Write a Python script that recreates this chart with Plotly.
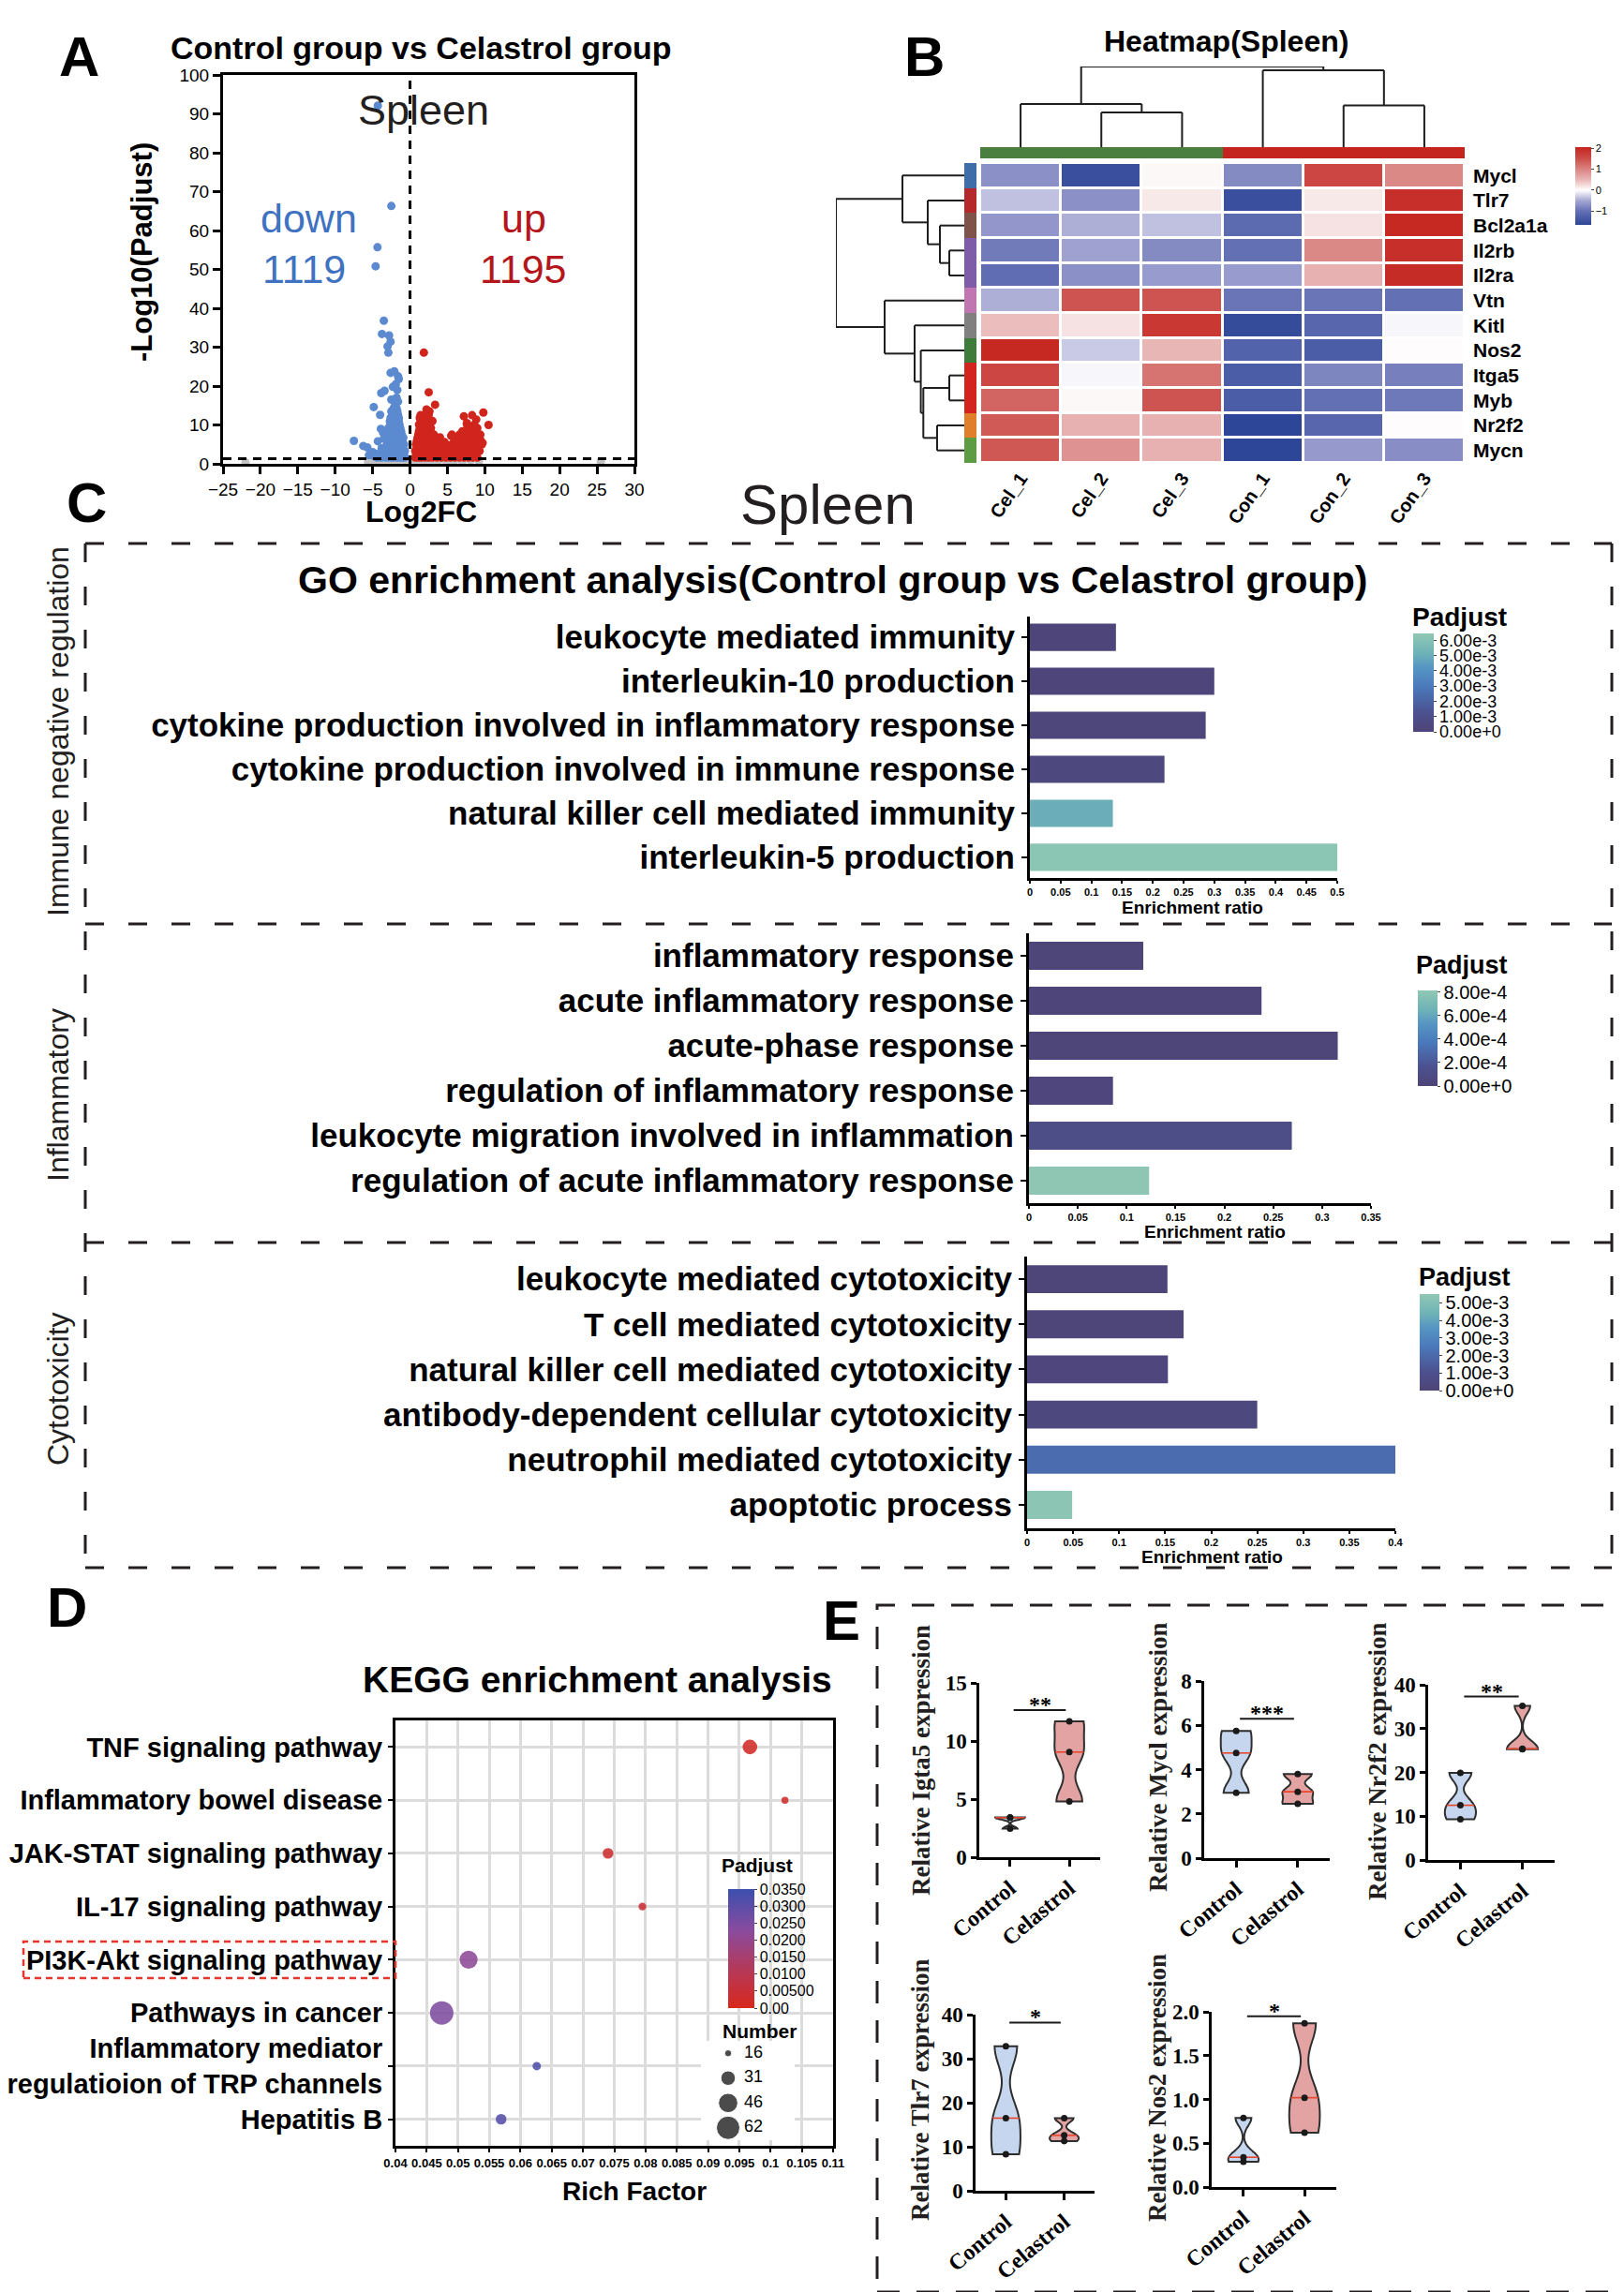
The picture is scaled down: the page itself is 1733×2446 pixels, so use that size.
import numpy as np
import plotly.graph_objects as go

W, H = 1733, 2446
SANS = "Liberation Sans, Arial, Helvetica, sans-serif"
SERIF = "Liberation Serif, Times New Roman, serif"

# ============================ DATA ============================
# ---- A: volcano plot (Log2FC, -Log10 Padjust) ----
down_outliers = [(-4.3, 92.1), (-2.5, 66.3), (-4.35, 55.7), (-4.6, 50.8), (-3.5, 36.8), (-3.75, 33.4),
                 (-2.8, 33.0), (-2.6, 31.4), (-3.0, 30.2), (-2.9, 28.6), (-2.6, 23.4), (-2.1, 23.8),
                 (-1.5, 21.8), (-2.3, 19.8), (-3.85, 18.2), (-1.7, 19.0), (-1.8, 17.0), (-4.85, 14.6),
                 (-7.5, 5.9), (-6.25, 4.6), (-5.7, 4.2), (-4.3, 5.8), (-4.0, 12.6), (-1.6, 22.5),
                 (-1.9, 20.5), (-3.4, 18.8), (-1.6, 16.0), (-2.5, 16.5), (-2.0, 15.5), (-5.0, 3.0),
                 (-4.5, 2.5), (-3.8, 4.0), (-3.5, 6.5), (-3.3, 3.0), (-4.8, 2.0), (-5.5, 2.2),
                 (-3.9, 9.0), (-3.6, 8.0)]
down_rows = [(1.6, [-0.7, -1.0, -1.4, -1.8, -2.3, -2.7, -3.2, -3.8, -4.4]),
             (2.4, [-0.8, -1.2, -1.6, -2.0, -2.5, -2.9, -3.4, -4.1]),
             (3.3, [-0.7, -1.1, -1.5, -1.9, -2.2, -2.6, -3.0, -3.6]),
             (4.1, [-0.9, -1.3, -1.7, -2.1, -2.4, -2.8, -3.3]),
             (5.0, [-0.8, -1.2, -1.6, -2.0, -2.3, -2.7, -3.1]),
             (5.8, [-1.0, -1.4, -1.8, -2.2, -2.5, -2.9]),
             (6.7, [-0.9, -1.3, -1.7, -2.0, -2.4, -2.8]),
             (7.5, [-1.1, -1.5, -1.9, -2.2, -2.6, -3.0]),
             (8.4, [-1.2, -1.6, -2.0, -2.3, -2.7]),
             (9.2, [-1.3, -1.7, -2.1, -2.5, -2.9]),
             (10.1, [-1.4, -1.8, -2.2, -2.6]),
             (10.9, [-1.5, -1.9, -2.3, -2.7]),
             (11.8, [-1.5, -1.9, -2.2, -2.6]),
             (12.6, [-1.6, -2.0, -2.4]),
             (13.5, [-1.7, -2.1, -2.5]),
             (14.3, [-1.8, -2.2])]
up_outliers = [(1.85, 28.6), (2.5, 18.4), (3.35, 15.2), (9.8, 13.2), (10.5, 10.0), (7.2, 12.2),
               (8.85, 11.4), (9.4, 6.2), (9.7, 5.4), (8.3, 12.5), (7.6, 10.5), (6.6, 7.5), (5.5, 7.2),
               (2.2, 14.0), (1.4, 12.5), (2.6, 13.5), (3.0, 11.0), (4.0, 6.8), (4.6, 5.6), (5.0, 4.8)]
up_rows = [(1.6, [0.7, 1.1, 1.5, 2.0, 2.5, 3.0, 3.6, 4.2, 4.8, 5.4, 6.0, 6.6, 7.2, 7.8, 8.4, 9.0]),
           (2.4, [0.8, 1.2, 1.7, 2.2, 2.7, 3.3, 3.9, 4.5, 5.1, 5.7, 6.3, 6.9, 7.5, 8.1, 8.7]),
           (3.3, [0.7, 1.1, 1.6, 2.1, 2.6, 3.1, 3.7, 4.3, 4.9, 5.5, 6.1, 6.7, 7.3, 7.9, 8.6, 9.3]),
           (4.1, [0.9, 1.3, 1.8, 2.3, 2.8, 3.4, 4.0, 4.6, 5.2, 5.8, 6.4, 7.0, 7.7, 8.3, 9.0]),
           (5.0, [0.8, 1.2, 1.7, 2.2, 2.7, 3.2, 3.8, 4.4, 5.6, 6.2, 6.9, 7.5, 8.1, 8.8, 9.6]),
           (5.8, [0.9, 1.4, 1.9, 2.4, 2.9, 3.5, 5.9, 6.6, 7.2, 7.8, 8.5, 9.1]),
           (6.7, [1.0, 1.5, 2.0, 2.5, 3.0, 6.2, 7.0, 7.6, 8.2, 8.9]),
           (7.5, [1.1, 1.6, 2.1, 2.6, 3.2, 5.6, 7.3, 7.9, 8.6, 9.4]),
           (8.4, [1.2, 1.7, 2.2, 2.7, 7.0, 7.7, 8.4]),
           (9.2, [1.3, 1.8, 2.3, 2.8, 8.0, 9.0]),
           (10.1, [1.2, 1.7, 2.2, 2.6, 7.6, 8.6]),
           (10.9, [1.4, 1.9, 2.4, 2.9]),
           (11.8, [1.3, 1.8, 2.3]),
           (12.6, [2.0, 2.5])]
ns_points = [(-5.6, 0.5), (-4.7, 0.9), (-4.1, 0.3), (-3.3, 0.8), (-2.6, 0.5), (-1.8, 0.9), (-1.1, 0.4),
             (-0.5, 0.7), (0.4, 0.6), (1.2, 0.3), (2.0, 0.9), (2.9, 0.5), (3.8, 0.8), (4.9, 0.3),
             (5.9, 0.7), (7.0, 0.4), (8.1, 0.9), (9.2, 0.5), (-22.0, 0.4), (25.5, 0.6)]
n_down, n_up = 1119, 1195
fc_cut, padj_cut = 0.0, 0.05

# ---- B: heatmap ----
genes = ["Mycl", "Tlr7", "Bcl2a1a", "Il2rb", "Il2ra", "Vtn", "Kitl", "Nos2", "Itga5", "Myb", "Nr2f2", "Mycn"]
samples = ["Cel_1", "Cel_2", "Cel_3", "Con_1", "Con_2", "Con_3"]
zscore = [[-0.70, -1.50, 0.05, -0.75, 1.60, 0.95],
          [-0.35, -0.70, 0.15, -1.50, 0.15, 1.90],
          [-0.65, -0.45, -0.35, -1.10, 0.20, 2.00],
          [-0.90, -0.55, -0.75, -1.00, 0.95, 1.90],
          [-1.05, -0.70, -0.60, -0.60, 0.55, 1.95],
          [-0.45, 1.45, 1.45, -0.95, -0.95, -1.00],
          [0.45, 0.20, 1.80, -1.55, -1.15, -0.05],
          [2.00, -0.30, 0.50, -1.20, -1.30, 0.02],
          [1.60, -0.05, 1.15, -1.30, -0.80, -0.85],
          [1.30, 0.05, 1.45, -1.30, -1.00, -0.92],
          [1.40, 0.55, 0.55, -1.65, -1.15, 0.02],
          [1.42, 0.85, 0.55, -1.65, -0.62, -0.72]]
sample_group = [0, 0, 0, 1, 1, 1]
group_colors = ["#4A7F3F", "#C4251F"]
gene_module = [0, 1, 2, 3, 3, 4, 5, 6, 7, 7, 8, 9]
module_colors = ["#3E6DAA", "#B5282C", "#7F5349", "#7E5CA7", "#C077B1",
                 "#808080", "#3F7B3A", "#D2231F", "#E07E2A", "#5E9C43"]
col_linkage = [(1, 2, 3.7), (0, 6, 4.6), (4, 5, 4.45), (3, 8, 8.2), (7, 9, 8.6)]
row_linkage = [(3, 4, 16), (2, 12, 26), (1, 13, 39), (0, 14, 66), (8, 9, 16), (10, 11, 29),
               (16, 17, 43.7), (7, 18, 46.4), (6, 19, 53), (5, 20, 85), (15, 21, 137)]

# ---- C: GO enrichment ----
go_immune_terms = ["leukocyte mediated immunity", "interleukin-10 production",
                   "cytokine production involved in inflammatory response",
                   "cytokine production involved in immune response",
                   "natural killer cell mediated immunity", "interleukin-5 production"]
go_immune_ratio = [0.140, 0.300, 0.286, 0.219, 0.135, 0.500]
go_immune_padj = [1.5e-4, 2.0e-4, 2.5e-4, 3.5e-4, 5.0e-3, 6.3e-3]

go_inflam_terms = ["inflammatory response", "acute inflammatory response", "acute-phase response",
                   "regulation of inflammatory response", "leukocyte migration involved in inflammation",
                   "regulation of acute inflammatory response"]
go_inflam_ratio = [0.117, 0.238, 0.316, 0.086, 0.269, 0.123]
go_inflam_padj = [1e-5, 2e-5, 1e-5, 3e-5, 1.1e-4, 8.1e-4]

go_cyto_terms = ["leukocyte mediated cytotoxicity", "T cell mediated cytotoxicity",
                 "natural killer cell mediated cytotoxicity", "antibody-dependent cellular cytotoxicity",
                 "neutrophil mediated cytotoxicity", "apoptotic process"]
go_cyto_ratio = [0.1525, 0.170, 0.153, 0.250, 0.400, 0.049]
go_cyto_padj = [1e-4, 1e-4, 2e-4, 3e-4, 2.1e-3, 5.4e-3]

# ---- D: KEGG enrichment ----
kegg_terms = ["TNF signaling pathway", "Inflammatory bowel disease", "JAK-STAT signaling pathway",
              "IL-17 signaling pathway", "PI3K-Akt signaling pathway", "Pathways in cancer",
              "Inflammatory mediator<br>regulatioion of TRP channels", "Hepatitis B"]
kegg_rich = [0.0967, 0.1023, 0.0740, 0.0795, 0.0517, 0.0474, 0.0626, 0.0569]
kegg_padj = [0.0020, 0.0030, 0.0035, 0.0045, 0.0215, 0.0245, 0.0320, 0.0310]
kegg_count = [31, 16, 22, 17, 41, 62, 18, 22]
count_breaks = [16, 31, 46, 62]

# ---- E: qPCR violins ----
qpcr_genes = ["Igta5", "Mycl", "Nr2f2", "Tlr7", "Nos2"]
qpcr_groups = ["Control", "Celastrol"]
qpcr_control = [[3.43, 3.40, 2.45], [5.75, 4.75, 2.95], [19.9, 12.5, 9.3], [32.8, 16.5, 8.3], [0.79, 0.34, 0.29]]
qpcr_celastrol = [[11.7, 9.05, 4.8], [3.8, 3.0, 2.45], [35.2, 25.4, 25.3], [16.5, 12.6, 11.3], [1.87, 1.02, 0.62]]
qpcr_sig = ["**", "***", "**", "*", "*"]
qpcr_sig_y = [12.66, 6.3, 37.3, 38.2, 1.95]
qpcr_ymax = [15, 8, 40, 40, 2.0]
qpcr_dtick = [5, 2, 10, 10, 0.5]

# ============================ HELPERS ============================
def dom_x(a, b):
    return [a / W, b / W]


def dom_y(top, bottom):
    return [1 - bottom / H, 1 - top / H]


def PX(x):
    return x / W


def PY(y):
    return 1 - y / H


def fnt(size, bold=False, family=SANS, color="black"):
    return dict(family=family, size=size, color=color, weight="bold" if bold else "normal")


annotations, shapes = [], []


def ann(text, x, y, size, bold=True, angle=0, color="black", family=SANS):
    annotations.append(dict(text=text, x=PX(x), y=PY(y), xref="paper", yref="paper", showarrow=False,
                            textangle=angle, xanchor="center", yanchor="middle",
                            font=fnt(size, bold, family, color)))


def pline(x0, y0, x1, y1, color="#231F20", width=3, dash="20px,26px"):
    shapes.append(dict(type="line", xref="paper", yref="paper", x0=PX(x0), y0=PY(y0), x1=PX(x1), y1=PY(y1),
                       line=dict(color=color, width=width, dash=dash)))


def axis_off(**kw):
    d = dict(visible=False, showgrid=False, zeroline=False, fixedrange=True)
    d.update(kw)
    return d


def axis_on(**kw):
    d = dict(showgrid=False, zeroline=False, showline=True, linecolor="black", linewidth=3,
             ticks="outside", tickcolor="black", tickwidth=2.5, ticklen=6, tickangle=0,
             tickfont=fnt(14), fixedrange=True)
    d.update(kw)
    return d


def dendro(linkage, n_leaves):
    pos = {i: float(i) for i in range(n_leaves)}
    hgt = {i: 0.0 for i in range(n_leaves)}
    p, h = [], []
    for k, (a, b, hh) in enumerate(linkage):
        for c in (a, b):
            p += [pos[c], pos[c], None]
            h += [hgt[c], hh, None]
        p += [pos[a], pos[b], None]
        h += [hh, hh, None]
        pos[n_leaves + k] = (pos[a] + pos[b]) / 2
        hgt[n_leaves + k] = hh
    return p, h


def discrete_scale(colors):
    n = len(colors)
    cs = []
    for k, c in enumerate(colors):
        cs += [[k / n, c], [(k + 1) / n, c]]
    return cs


def bubble_px(n):
    a = (25 ** 2 - 7.5 ** 2) / (62 - 16)
    return float(np.sqrt(7.5 ** 2 + (n - 16) * a))


fig = go.Figure()
layout = dict(width=W, height=H, margin=dict(l=0, r=0, t=0, b=0, autoexpand=False),
              paper_bgcolor="white", plot_bgcolor="white", template="none",
              font=dict(family=SANS, color="black"), showlegend=False, violinmode="overlay",
              hovermode=False)

# ============================ A: VOLCANO ============================
dx = [p[0] for p in down_outliers] + [x for y, xs in down_rows for x in xs]
dy = [p[1] for p in down_outliers] + [y for y, xs in down_rows for x in xs]
ux = [p[0] for p in up_outliers] + [x for y, xs in up_rows for x in xs]
uy = [p[1] for p in up_outliers] + [y for y, xs in up_rows for x in xs]
fig.add_trace(go.Scatter(x=[p[0] for p in ns_points], y=[p[1] for p in ns_points], mode="markers",
                         marker=dict(color="#C3C3C3", size=9), xaxis="x", yaxis="y", hoverinfo="skip"))
fig.add_trace(go.Scatter(x=dx, y=dy, mode="markers", marker=dict(color="#5B8AD0", size=9),
                         xaxis="x", yaxis="y", hoverinfo="skip"))
fig.add_trace(go.Scatter(x=ux, y=uy, mode="markers", marker=dict(color="#D0251D", size=9),
                         xaxis="x", yaxis="y", hoverinfo="skip"))
layout["xaxis"] = axis_on(domain=dom_x(230, 669), anchor="y", range=[-25, 30], tick0=-25, dtick=5,
                          mirror=True, ticklen=8, tickfont=fnt(19))
layout["yaxis"] = axis_on(domain=dom_y(72, 487), anchor="x", range=[0, 100], dtick=10,
                          mirror=True, ticklen=8, tickfont=fnt(19))
thr = -np.log10(padj_cut)
shapes.append(dict(type="line", xref="x", yref="y", x0=fc_cut, x1=fc_cut, y0=0, y1=100,
                   line=dict(color="black", width=3, dash="9px,7px")))
shapes.append(dict(type="line", xref="x", yref="y", x0=-25, x1=30, y0=thr, y1=thr,
                   line=dict(color="black", width=3, dash="9px,7px")))
ann("A", 76, 52, 60)
ann("Control group vs Celastrol group", 441, 43, 34)
ann("Spleen", 444, 110, 45, bold=False, color="#231F20")
ann("down", 321, 225, 43, bold=False, color="#3F72C0")
ann(str(n_down), 316, 279, 43, bold=False, color="#3F72C0")
ann("up", 551, 225, 43, bold=False, color="#B3161B")
ann(str(n_up), 550, 279, 43, bold=False, color="#B3161B")
ann("-Log10(Padjust)", 143, 261, 31, angle=-90)
ann("Log2FC", 442, 538, 32)

# ============================ B: HEATMAP ============================
heat_scale = [[0.0, "#2D4697"], [0.1757, "#6470B4"], [0.3108, "#A5A6D3"], [0.4459, "#FFFFFF"],
              [0.581, "#E9B6B6"], [0.7162, "#DA8482"], [0.8514, "#CD4F4B"], [1.0, "#C5241E"]]
fig.add_trace(go.Heatmap(z=zscore, x=list(range(len(samples))), y=list(range(len(genes))),
                         coloraxis="coloraxis", xgap=3, ygap=3, xaxis="x2", yaxis="y2", hoverinfo="skip"))
layout["coloraxis"] = dict(cmin=-1.65, cmax=2.05, colorscale=heat_scale,
                           colorbar=dict(x=PX(1673), xanchor="left", y=PY(232), yanchor="bottom",
                                         len=83, lenmode="pixels", thickness=17, xpad=0, ypad=0,
                                         outlinewidth=0, tickvals=[-1, 0, 1, 2], ticks="outside",
                                         ticklen=3, tickfont=fnt(11)))
layout["xaxis2"] = axis_off(domain=dom_x(1038, 1555), anchor="y2", range=[-0.5, 5.5], visible=True,
                            showline=False, ticks="", tickvals=list(range(6)), ticktext=samples,
                            tickangle=-55, tickfont=fnt(20, True))
layout["yaxis2"] = axis_off(domain=dom_y(166, 486), anchor="x2", range=[11.5, -0.5], visible=True,
                            showline=False, ticks="", side="right", tickvals=list(range(12)),
                            ticktext=genes, tickfont=fnt(21, True), ticklabelstandoff=8)
# column dendrogram
cp, ch = dendro(col_linkage, len(samples))
fig.add_trace(go.Scatter(x=cp, y=ch, mode="lines", line=dict(color="#1E1E1E", width=2),
                         xaxis="x3", yaxis="y3", hoverinfo="skip"))
layout["xaxis3"] = axis_off(domain=dom_x(1038, 1555), anchor="y3", range=[-0.5, 5.5])
layout["yaxis3"] = axis_off(domain=dom_y(63, 149), anchor="x3", range=[0, max(l[2] for l in col_linkage)])
# row dendrogram
rp, rh = dendro(row_linkage, len(genes))
fig.add_trace(go.Scatter(x=rh, y=rp, mode="lines", line=dict(color="#1E1E1E", width=2),
                         xaxis="x4", yaxis="y4", hoverinfo="skip"))
layout["xaxis4"] = axis_off(domain=dom_x(884, 1021), anchor="y4", range=[max(l[2] for l in row_linkage), 0])
layout["yaxis4"] = axis_off(domain=dom_y(166, 486), anchor="x4", range=[11.5, -0.5])
# row annotation strip
fig.add_trace(go.Heatmap(z=[[m] for m in gene_module], x=[0], y=list(range(len(genes))),
                         colorscale=discrete_scale(module_colors), zmin=-0.5, zmax=len(module_colors) - 0.5,
                         showscale=False, xaxis="x5", yaxis="y5", hoverinfo="skip"))
layout["xaxis5"] = axis_off(domain=dom_x(1021, 1034), anchor="y5", range=[-0.5, 0.5])
layout["yaxis5"] = axis_off(domain=dom_y(166, 486), anchor="x5", range=[11.5, -0.5])
# group bar
fig.add_trace(go.Heatmap(z=[sample_group], x=list(range(len(samples))), y=[0],
                         colorscale=discrete_scale(group_colors), zmin=-0.5, zmax=1.5,
                         showscale=False, xaxis="x6", yaxis="y6", hoverinfo="skip"))
layout["xaxis6"] = axis_off(domain=dom_x(1038, 1555), anchor="y6", range=[-0.5, 5.5])
layout["yaxis6"] = axis_off(domain=dom_y(149, 161), anchor="x6", range=[-0.5, 0.5])
ann("B", 978, 52, 60)
ann("Heatmap(Spleen)", 1300, 36, 32)

# ============================ C: GO ============================
go_scale = [[0.0, "#4E4477"], [0.2, "#4C5190"], [0.45, "#4A78BA"], [0.65, "#5595C3"],
            [0.8, "#6FB3B8"], [1.0, "#8FC7B3"]]
go_sections = [
    (go_immune_terms, go_immune_ratio, go_immune_padj, 7, "coloraxis2", (1091, 1419), (650, 929), 0.5,
     [5.47, -0.47], 6.45e-3, [i * 1e-3 for i in range(7)], ["%.2fe-3" % i if i else "0.00e+0" for i in range(7)],
     (1500, 22, 668, 773), 18),
    (go_inflam_terms, go_inflam_ratio, go_inflam_padj, 8, "coloraxis3", (1090, 1455), (988, 1276), 0.35,
     [5.5, -0.5], 8.15e-4, [i * 2e-4 for i in range(5)], ["%.2fe-4" % (2 * i) if i else "0.00e+0" for i in range(5)],
     (1505, 21, 1049, 1151), 20),
    (go_cyto_terms, go_cyto_ratio, go_cyto_padj, 9, "coloraxis4", (1088, 1481), (1333, 1623), 0.4,
     [5.52, -0.5], 5.5e-3, [i * 1e-3 for i in range(6)], ["%.2fe-3" % i if i else "0.00e+0" for i in range(6)],
     (1507, 21, 1373, 1476), 20),
]
for (terms, ratio, padj, n, cax, xd, yd, xmax, yr, cmax, tv, tt, cb, cbf) in go_sections:
    fig.add_trace(go.Bar(x=ratio, y=list(range(len(terms))), orientation="h", width=0.62,
                         marker=dict(color=padj, coloraxis=cax, line=dict(width=0)),
                         xaxis="x%d" % n, yaxis="y%d" % n, hoverinfo="skip"))
    layout["xaxis%d" % n] = axis_on(domain=dom_x(*xd), anchor="y%d" % n, range=[0, xmax], dtick=0.05,
                                    tick0=0, ticklen=3, tickwidth=2, tickfont=fnt(11, True))
    layout["yaxis%d" % n] = axis_on(domain=dom_y(*yd), anchor="x%d" % n, range=yr,
                                    tickvals=list(range(len(terms))), ticktext=terms, ticklen=6,
                                    tickwidth=2, tickfont=fnt(35, True))
    layout[cax] = dict(cmin=0, cmax=cmax, colorscale=go_scale,
                       colorbar=dict(x=PX(cb[0]), xanchor="left", y=PY(cb[3]), yanchor="bottom",
                                     len=cb[3] - cb[2], lenmode="pixels", thickness=cb[1], xpad=0, ypad=0,
                                     outlinewidth=0, tickvals=tv, ticktext=tt, ticks="outside",
                                     ticklen=3, tickfont=fnt(cbf)))

ann("C", 84, 528, 60)
ann("Spleen", 876, 530, 60, bold=False, color="#231F20")
ann("GO enrichment analysis(Control group vs Celastrol group)", 880, 611, 41)
ann("Immune negative regulation", 54, 773, 32, bold=False, angle=-90, color="#231F20")
ann("Inflammatory", 54, 1161, 32, bold=False, angle=-90, color="#231F20")
ann("Cytotoxicity", 54, 1474, 32, bold=False, angle=-90, color="#231F20")
ann("Padjust", 1549, 651, 28)
ann("Padjust", 1552, 1022, 27)
ann("Padjust", 1555, 1355, 27)
ann("Enrichment ratio", 1264, 960, 19)
ann("Enrichment ratio", 1288, 1306, 19)
ann("Enrichment ratio", 1285, 1653, 19)
# dashed frame of panel C
for yy in (572, 978, 1318, 1665):
    pline(83, yy, 1712, yy)
pline(83, 572, 83, 1665)
pline(1712, 572, 1712, 1665)

# ============================ D: KEGG ============================
kegg_scale = [[0.0, "#D8281C"], [0.35, "#B23A5E"], [0.65, "#8A4B9E"], [1.0, "#3B4FAE"]]
fig.add_trace(go.Scatter(x=kegg_rich, y=list(range(len(kegg_terms))), mode="markers",
                         marker=dict(size=[bubble_px(c) for c in kegg_count], color=kegg_padj,
                                     coloraxis="coloraxis5", opacity=0.88, line=dict(width=0)),
                         xaxis="x10", yaxis="y10", hoverinfo="skip"))
layout["coloraxis5"] = dict(cmin=0, cmax=0.035, colorscale=kegg_scale,
                            colorbar=dict(x=PX(769), xanchor="left", y=PY(2135), yanchor="bottom",
                                          len=127, lenmode="pixels", thickness=28, xpad=0, ypad=0,
                                          outlinewidth=0,
                                          tickvals=[0, 0.005, 0.01, 0.015, 0.02, 0.025, 0.03, 0.035],
                                          ticktext=["0.00", "0.00500", "0.0100", "0.0150", "0.0200",
                                                    "0.0250", "0.0300", "0.0350"],
                                          ticks="outside", ticklen=3, tickfont=fnt(16)))
layout["xaxis10"] = axis_on(domain=dom_x(414, 881), anchor="y10", range=[0.04, 0.11], dtick=0.005, tick0=0.04,
                            showgrid=True, gridcolor="#DCDCDC", gridwidth=3, mirror=True, ticklen=4,
                            tickwidth=2, tickfont=fnt(13, True))
layout["yaxis10"] = axis_on(domain=dom_y(1828, 2282), anchor="x10", range=[7.5, -0.5],
                            tickvals=list(range(len(kegg_terms))), ticktext=kegg_terms,
                            showgrid=True, gridcolor="#DCDCDC", gridwidth=3, mirror=True, ticklen=5,
                            tickwidth=2, tickfont=fnt(29, True))
# size legend
fig.add_trace(go.Scatter(x=[29] * len(count_breaks), y=list(range(len(count_breaks))), mode="markers",
                         marker=dict(size=[bubble_px(c) for c in count_breaks], color="black"),
                         xaxis="x11", yaxis="y11", hoverinfo="skip"))
fig.add_trace(go.Scatter(x=[46] * len(count_breaks), y=list(range(len(count_breaks))), mode="text",
                         text=[str(c) for c in count_breaks], textposition="middle right",
                         textfont=fnt(18), xaxis="x11", yaxis="y11", hoverinfo="skip"))
layout["xaxis11"] = axis_off(domain=dom_x(740, 840), anchor="y11", range=[0, 100])
layout["yaxis11"] = axis_off(domain=dom_y(2170, 2276), anchor="x11", range=[3.5, -0.5])
shapes.append(dict(type="rect", xref="paper", yref="paper", x0=PX(17), x1=PX(414), y0=PY(2103), y1=PY(2064),
                   line=dict(color="#E8352B", width=2.5, dash="7px,5px")))
ann("D", 63, 1707, 60)
ann("KEGG enrichment analysis", 629, 1784, 39)
ann("Rich Factor", 669, 2330, 28)
ann("Padjust", 800, 1982, 21)
ann("Number", 802, 2159, 21)

# ============================ E: VIOLINS ============================
vbox = [(1037, 1166, 1788, 1974), (1277, 1411, 1786, 1975), (1516, 1651, 1790, 1977),
        (1033, 1160, 2142, 2330), (1285, 1418, 2139, 2326)]
vtitle = [(975, 1870), (1228, 1868), (1462, 1872), (974, 2223), (1227, 2220)]
fills = ["#C5D6EE", "#E3A3A3"]
VW = 0.5
for i, g in enumerate(qpcr_genes):
    n = 12 + i
    xa, ya = "x%d" % n, "y%d" % n
    for j, vals in enumerate([qpcr_control[i], qpcr_celastrol[i]]):
        v = np.array(vals, dtype=float)
        bw = 0.18 * (v.max() - v.min())
        fig.add_trace(go.Violin(x=[j] * len(v), y=v, xaxis=xa, yaxis=ya, fillcolor=fills[j],
                                line=dict(color="#2E2E2E", width=2), width=VW, spanmode="hard",
                                bandwidth=bw, points=False, scalemode="width", box_visible=False,
                                meanline_visible=False, hoverinfo="skip", opacity=1))
        grid = np.linspace(v.min(), v.max(), 300)
        dens = np.exp(-0.5 * ((grid[:, None] - v[None, :]) / bw) ** 2).sum(axis=1)
        med = float(np.median(v))
        dmed = np.exp(-0.5 * ((med - v) / bw) ** 2).sum()
        hw = VW / 2 * dmed / dens.max()
        fig.add_trace(go.Scatter(x=[j - hw, j + hw], y=[med, med], mode="lines",
                                 line=dict(color="#E8452C", width=1.6), xaxis=xa, yaxis=ya, hoverinfo="skip"))
        fig.add_trace(go.Scatter(x=[j] * len(v), y=v, mode="markers", marker=dict(color="#1A1A1A", size=7),
                                 xaxis=xa, yaxis=ya, hoverinfo="skip"))
    x0, x1, yt, yb = vbox[i]
    layout["xaxis%d" % n] = axis_on(domain=dom_x(x0, x1), anchor=ya, range=[-0.52, 1.52],
                                    tickvals=[0, 1], ticktext=qpcr_groups, tickangle=-40, ticklen=7,
                                    linewidth=2.5, tickfont=fnt(24, True, SERIF))
    layout["yaxis%d" % n] = axis_on(domain=dom_y(yt, yb), anchor=xa, range=[0, qpcr_ymax[i]],
                                    dtick=qpcr_dtick[i], tick0=0, ticklen=6, linewidth=2.5,
                                    tickformat=".1f" if qpcr_dtick[i] < 1 else "",
                                    tickfont=fnt(23, True, SERIF))
    shapes.append(dict(type="line", xref=xa, yref=ya, x0=0.06, x1=0.94, y0=qpcr_sig_y[i], y1=qpcr_sig_y[i],
                       line=dict(color="#1A1A1A", width=2)))
    annotations.append(dict(text=qpcr_sig[i], x=0.5, y=qpcr_sig_y[i], xref=xa, yref=ya, showarrow=False,
                            xanchor="center", yanchor="middle", yshift=6, font=fnt(24, True, SERIF)))
    ann("Relative %s expression" % g, vtitle[i][0], vtitle[i][1], 27, bold=True, angle=-90, family=SERIF,
        color="#231F20")
ann("E", 890, 1722, 60)
shapes.append(dict(type="rect", xref="paper", yref="paper", x0=PX(928), x1=PX(1726), y0=PY(2438), y1=PY(1705),
                   line=dict(color="#231F20", width=3, dash="24px,18px")))

layout["annotations"] = annotations
layout["shapes"] = shapes
fig.update_layout(**layout)
fig.write_html("out.html")
